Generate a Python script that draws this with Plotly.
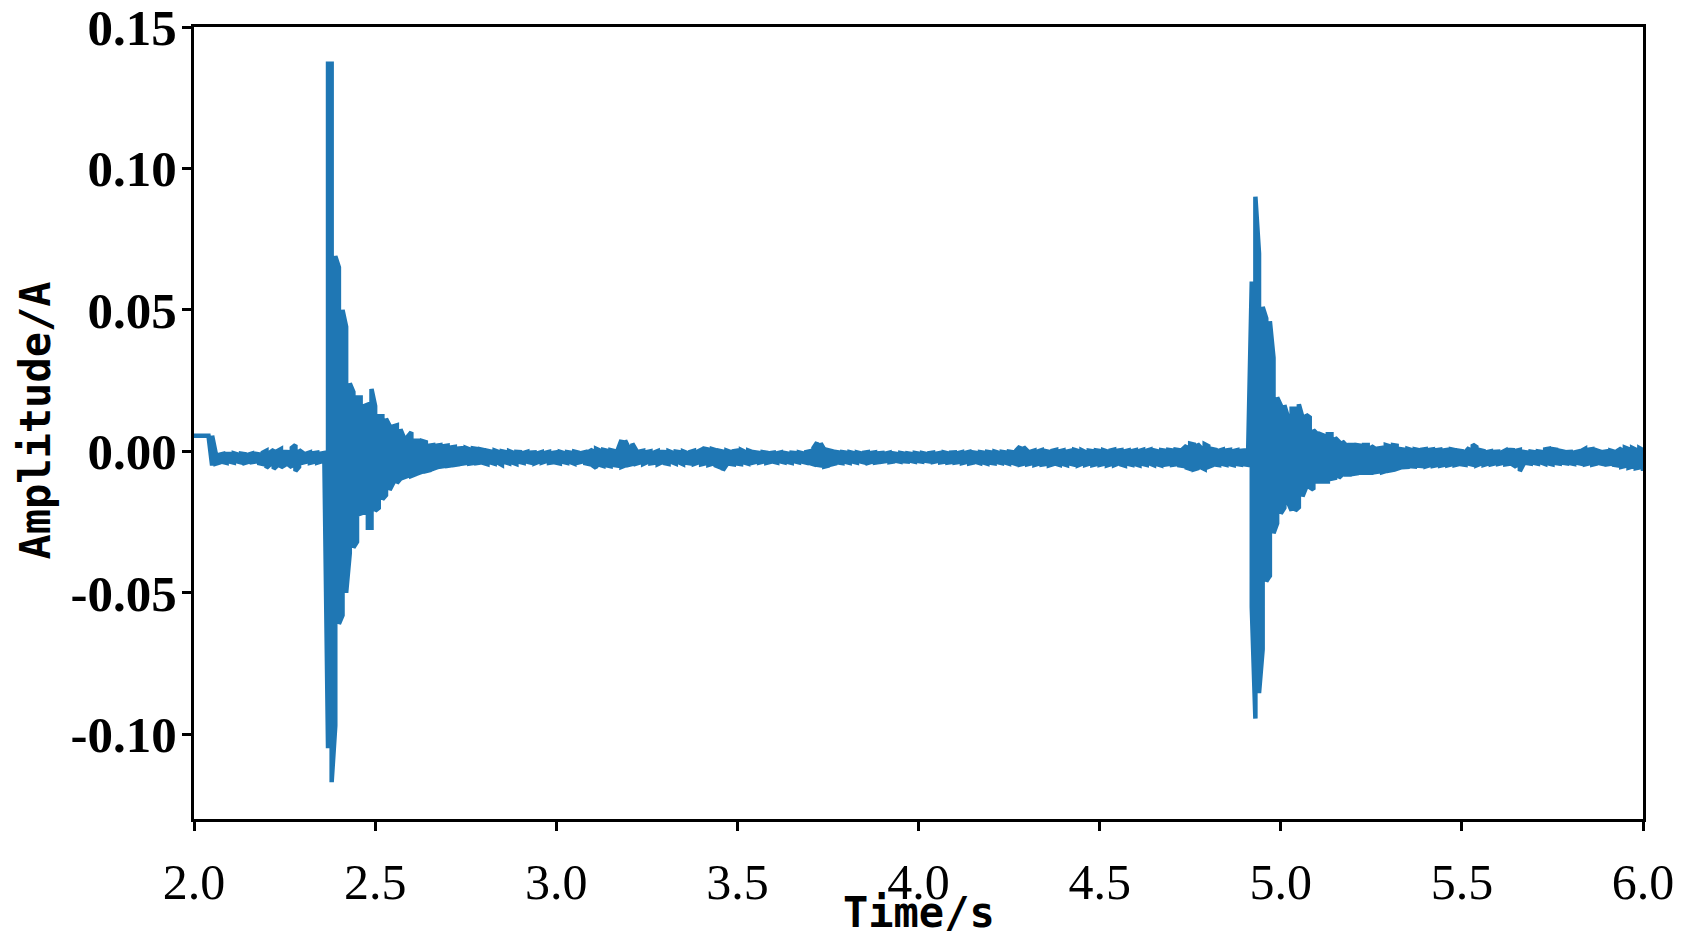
import numpy as np
import plotly.graph_objects as go

# sampling of the trace: one column every 10 ms from 2.00 s to 6.00 s
t_start = 2.0
t_step = 0.01

# highest value of the trace inside each 10 ms column (A)
upper = [
    0.0055, 0.0055, 0.0055, 0.0055, 0.0055, 0.0055, -0.0008, -0.0012, -0.0009, -0.0010,   # 2.0
    -0.0010, -0.0007, -0.0011, -0.0008, -0.0010, -0.0012, -0.0008, -0.0009, -0.0011, -0.0005,
    0.0002, -0.0004, 0.0005, 0.0001, 0.0008, -0.0002, -0.0003, 0.0012, 0.0022, 0.0004,
    -0.0005, -0.0008, -0.0004, -0.0007, -0.0005, -0.0008, -0.0006, 0.1370, 0.1370, 0.0690,
    0.0650, 0.0500, 0.0440, 0.0240, 0.0210, 0.0190, 0.0190, 0.0160, 0.0165, 0.0220,
    0.0160, 0.0124, 0.0124, 0.0115, 0.0090, 0.0088, 0.0092, 0.0078, 0.0046, 0.0052,   # 2.5
    0.0067, 0.0037, 0.0037, 0.0036, 0.0032, 0.0020, 0.0022, 0.0020, 0.0022, 0.0018,
    0.0020, 0.0014, 0.0016, 0.0010, 0.0011, 0.0012, 0.0007, 0.0010, 0.0008, 0.0007,
    0.0004, 0.0002, -0.0001, 0.0003, -0.0002, 0.0000, -0.0003, 0.0001, -0.0004, -0.0002,
    -0.0003, -0.0006, -0.0002, -0.0005, -0.0004, -0.0007, -0.0003, -0.0005, -0.0002, -0.0006,
    -0.0004, -0.0002, -0.0006, -0.0003, -0.0005, -0.0001, -0.0004, -0.0006, -0.0003, -0.0002,   # 3.0
    0.0006, 0.0009, 0.0003, 0.0005, 0.0002, 0.0004, 0.0001, 0.0006, 0.0040, 0.0038,
    0.0012, 0.0027, 0.0005, -0.0001, 0.0002, -0.0003, 0.0000, -0.0004, 0.0001, -0.0002,
    -0.0003, 0.0001, -0.0004, -0.0001, -0.0003, 0.0000, -0.0005, -0.0002, 0.0002, -0.0001,
    0.0005, 0.0009, 0.0006, 0.0008, 0.0004, 0.0002, -0.0001, 0.0003, -0.0002, 0.0000,
    0.0002, 0.0005, -0.0001, 0.0003, -0.0002, -0.0004, -0.0006, -0.0003, -0.0005, -0.0007,   # 3.5
    -0.0005, -0.0007, -0.0004, -0.0006, -0.0008, -0.0005, -0.0006, -0.0004, -0.0007, -0.0003,
    0.0000, 0.0012, 0.0031, 0.0028, 0.0006, 0.0004, 0.0001, -0.0002, -0.0004, -0.0003,
    -0.0005, -0.0003, -0.0006, -0.0004, -0.0007, -0.0005, -0.0003, -0.0006, -0.0004, -0.0007,
    -0.0006, -0.0008, -0.0005, -0.0007, -0.0009, -0.0006, -0.0008, -0.0007, -0.0009, -0.0006,
    -0.0008, -0.0006, -0.0009, -0.0007, -0.0005, -0.0008, -0.0006, -0.0004, -0.0007, -0.0005,   # 4.0
    -0.0004, -0.0006, -0.0003, -0.0005, -0.0002, -0.0004, -0.0006, -0.0003, -0.0005, -0.0002,
    -0.0004, -0.0001, -0.0005, -0.0002, -0.0004, -0.0001, -0.0003, 0.0003, 0.0017, 0.0015,
    0.0002, -0.0001, 0.0003, 0.0000, 0.0004, 0.0001, -0.0002, 0.0002, 0.0005, 0.0000,
    0.0003, -0.0001, 0.0002, 0.0005, 0.0001, 0.0004, -0.0002, 0.0002, 0.0000, 0.0003,
    0.0001, 0.0004, 0.0000, 0.0003, 0.0006, 0.0002, 0.0004, 0.0000, 0.0003, 0.0001,   # 4.5
    0.0004, 0.0001, 0.0005, 0.0002, 0.0006, 0.0003, 0.0000, 0.0004, 0.0002, 0.0005,
    0.0003, 0.0006, 0.0004, 0.0008, 0.0020, 0.0027, 0.0024, 0.0026, 0.0012, 0.0025,
    0.0018, 0.0008, 0.0005, 0.0002, 0.0006, 0.0003, 0.0005, 0.0001, 0.0004, 0.0002,
    0.0003, 0.0000, 0.0600, 0.0900, 0.0700, 0.0510, 0.0470, 0.0460, 0.0330, 0.0190,
    0.0163, 0.0163, 0.0120, 0.0150, 0.0150, 0.0166, 0.0120, 0.0129, 0.0120, 0.0075,   # 5.0
    0.0062, 0.0060, 0.0055, 0.0060, 0.0060, 0.0048, 0.0035, 0.0035, 0.0022, 0.0022,
    0.0022, 0.0022, 0.0020, 0.0022, 0.0022, 0.0018, 0.0010, 0.0010, 0.0012, 0.0022,
    0.0018, 0.0022, 0.0020, 0.0008, 0.0006, 0.0009, 0.0005, 0.0007, 0.0004, 0.0006,
    0.0008, 0.0005, 0.0007, 0.0004, 0.0006, 0.0003, 0.0005, 0.0007, 0.0004, 0.0002,
    0.0000, -0.0002, 0.0012, 0.0024, 0.0015, 0.0004, 0.0001, -0.0003, 0.0000, -0.0002,   # 5.5
    -0.0001, -0.0004, 0.0003, 0.0005, 0.0004, 0.0002, 0.0005, -0.0002, -0.0004, -0.0001,
    -0.0003, 0.0000, -0.0002, 0.0007, 0.0009, 0.0008, 0.0006, 0.0002, -0.0001, -0.0003,
    -0.0002, -0.0004, -0.0001, 0.0002, 0.0009, 0.0006, 0.0008, 0.0004, 0.0000, -0.0002,
    0.0000, 0.0003, -0.0001, 0.0002, 0.0010, 0.0013, 0.0008, 0.0012, 0.0006, 0.0011,
    0.0004,   # 6.0
]

# lowest value of the trace inside each 10 ms column (A)
lower = [
    0.0055, 0.0055, 0.0055, 0.0055, 0.0055, -0.0050, -0.0044, -0.0040, -0.0038, -0.0041,   # 2.0
    -0.0037, -0.0040, -0.0036, -0.0039, -0.0041, -0.0037, -0.0038, -0.0036, -0.0042, -0.0045,
    -0.0058, -0.0047, -0.0062, -0.0050, -0.0057, -0.0049, -0.0046, -0.0056, -0.0070, -0.0055,
    -0.0040, -0.0037, -0.0041, -0.0038, -0.0040, -0.0036, -0.0041, -0.1050, -0.1170, -0.0970,
    -0.0610, -0.0580, -0.0500, -0.0360, -0.0340, -0.0320, -0.0220, -0.0215, -0.0270, -0.0270,
    -0.0210, -0.0200, -0.0170, -0.0155, -0.0137, -0.0112, -0.0112, -0.0097, -0.0092, -0.0087,   # 2.5
    -0.0087, -0.0082, -0.0077, -0.0072, -0.0070, -0.0067, -0.0062, -0.0057, -0.0054, -0.0052,
    -0.0052, -0.0050, -0.0048, -0.0046, -0.0044, -0.0042, -0.0044, -0.0042, -0.0042, -0.0040,
    -0.0042, -0.0046, -0.0040, -0.0044, -0.0041, -0.0048, -0.0039, -0.0043, -0.0040, -0.0045,
    -0.0038, -0.0041, -0.0037, -0.0040, -0.0043, -0.0038, -0.0040, -0.0036, -0.0041, -0.0039,
    -0.0040, -0.0043, -0.0038, -0.0041, -0.0039, -0.0044, -0.0040, -0.0037, -0.0042, -0.0045,   # 3.0
    -0.0050, -0.0059, -0.0048, -0.0052, -0.0050, -0.0053, -0.0049, -0.0051, -0.0055, -0.0050,
    -0.0048, -0.0045, -0.0044, -0.0040, -0.0045, -0.0039, -0.0043, -0.0041, -0.0046, -0.0040,
    -0.0042, -0.0045, -0.0039, -0.0044, -0.0040, -0.0046, -0.0041, -0.0043, -0.0045, -0.0040,
    -0.0046, -0.0043, -0.0048, -0.0044, -0.0050, -0.0055, -0.0067, -0.0048, -0.0044, -0.0046,
    -0.0043, -0.0045, -0.0040, -0.0044, -0.0041, -0.0038, -0.0040, -0.0037, -0.0041, -0.0038,   # 3.5
    -0.0037, -0.0040, -0.0036, -0.0039, -0.0038, -0.0041, -0.0036, -0.0039, -0.0037, -0.0040,
    -0.0042, -0.0046, -0.0048, -0.0050, -0.0054, -0.0051, -0.0046, -0.0043, -0.0040, -0.0042,
    -0.0038, -0.0041, -0.0037, -0.0040, -0.0036, -0.0039, -0.0041, -0.0037, -0.0040, -0.0038,
    -0.0037, -0.0035, -0.0038, -0.0036, -0.0034, -0.0037, -0.0035, -0.0036, -0.0034, -0.0037,
    -0.0035, -0.0037, -0.0034, -0.0036, -0.0038, -0.0035, -0.0039, -0.0037, -0.0040, -0.0038,   # 4.0
    -0.0040, -0.0038, -0.0042, -0.0039, -0.0043, -0.0040, -0.0038, -0.0042, -0.0040, -0.0044,
    -0.0041, -0.0043, -0.0039, -0.0042, -0.0040, -0.0044, -0.0041, -0.0045, -0.0047, -0.0044,
    -0.0046, -0.0043, -0.0048, -0.0044, -0.0047, -0.0045, -0.0050, -0.0046, -0.0044, -0.0048,
    -0.0045, -0.0049, -0.0044, -0.0047, -0.0050, -0.0045, -0.0048, -0.0044, -0.0049, -0.0046,
    -0.0048, -0.0045, -0.0050, -0.0046, -0.0049, -0.0044, -0.0047, -0.0051, -0.0045, -0.0048,   # 4.5
    -0.0046, -0.0050, -0.0045, -0.0048, -0.0044, -0.0049, -0.0046, -0.0050, -0.0047, -0.0045,
    -0.0048, -0.0046, -0.0050, -0.0052, -0.0058, -0.0062, -0.0064, -0.0060, -0.0057, -0.0063,
    -0.0055, -0.0050, -0.0047, -0.0049, -0.0045, -0.0048, -0.0046, -0.0049, -0.0045, -0.0047,
    -0.0046, -0.0048, -0.0550, -0.0945, -0.0855, -0.0700, -0.0460, -0.0440, -0.0290, -0.0255,
    -0.0220, -0.0200, -0.0180, -0.0210, -0.0210, -0.0198, -0.0160, -0.0127, -0.0127, -0.0135,   # 5.0
    -0.0107, -0.0107, -0.0107, -0.0107, -0.0097, -0.0094, -0.0094, -0.0082, -0.0082, -0.0082,
    -0.0080, -0.0078, -0.0076, -0.0076, -0.0076, -0.0076, -0.0074, -0.0072, -0.0074, -0.0070,
    -0.0068, -0.0066, -0.0062, -0.0058, -0.0056, -0.0055, -0.0053, -0.0054, -0.0051, -0.0052,
    -0.0054, -0.0050, -0.0052, -0.0049, -0.0051, -0.0048, -0.0050, -0.0047, -0.0049, -0.0046,
    -0.0046, -0.0048, -0.0044, -0.0047, -0.0050, -0.0045, -0.0048, -0.0044, -0.0046, -0.0043,   # 5.5
    -0.0045, -0.0042, -0.0046, -0.0044, -0.0047, -0.0055, -0.0070, -0.0046, -0.0042, -0.0044,
    -0.0041, -0.0044, -0.0040, -0.0045, -0.0043, -0.0046, -0.0042, -0.0044, -0.0041, -0.0043,
    -0.0042, -0.0045, -0.0041, -0.0044, -0.0046, -0.0043, -0.0047, -0.0044, -0.0042, -0.0045,
    -0.0046, -0.0044, -0.0048, -0.0050, -0.0055, -0.0052, -0.0058, -0.0054, -0.0060, -0.0057,
    -0.0070,   # 6.0
]

x_ticks = [2.0, 2.5, 3.0, 3.5, 4.0, 4.5, 5.0, 5.5, 6.0]
y_ticks = [-0.10, -0.05, 0.00, 0.05, 0.10, 0.15]
y_tick_text = ["-0.10", "-0.05", "0.00", "0.05", "0.10", "0.15"]

times = np.round(t_start + t_step * np.arange(len(upper)), 2)

# walk each column top->bottom / bottom->top so the dense signal fills like the original
xs, ys = [], []
for i, t in enumerate(times):
    pair = (upper[i], lower[i]) if i % 2 == 0 else (lower[i], upper[i])
    xs += [t, t]
    ys += list(pair)

fig = go.Figure(go.Scatter(
    x=xs, y=ys, mode="lines",
    line={"color": "#1f77b4", "width": 4.5},
    hoverinfo="skip",
))

axis_common = dict(
    showgrid=False, zeroline=False, automargin=False,
    showline=True, linecolor="black", linewidth=3, mirror=True,
    ticks="outside", ticklen=9, tickwidth=3, tickcolor="black",
    ticklabeloverflow="allow",
)

title_font = {"family": "DejaVu Sans Mono, monospace", "size": 42,
              "color": "black", "weight": "bold"}

fig.update_layout(
    width=1690, height=945,
    # the page body adds 8px, so the margins are shifted to keep the frame in place
    margin={"l": 186, "r": 55, "t": 19, "b": 134},
    paper_bgcolor="white", plot_bgcolor="white",
    showlegend=False,
    xaxis=dict(
        axis_common, range=[2.0, 6.0], tickvals=x_ticks, tickformat=".1f",
        ticklabelstandoff=8,
        tickfont={"family": "Liberation Serif, Times New Roman, serif", "size": 50, "color": "black"},
    ),
    yaxis=dict(
        axis_common, range=[-0.13, 0.15], tickvals=y_ticks, ticktext=y_tick_text,
        ticklabelstandoff=-5,
        tickfont={"family": "Liberation Serif, Times New Roman, serif", "size": 51,
                  "color": "black", "weight": "bold"},
    ),
    annotations=[
        dict(text="Time/s", xref="paper", yref="paper", x=0.5, y=0,
             xanchor="center", yanchor="middle", yshift=-93,
             showarrow=False, font=title_font),
        dict(text="Amplitude/A", xref="paper", yref="paper", x=0, y=0.503,
             xanchor="center", yanchor="middle", xshift=-158, textangle=-90,
             showarrow=False, font=title_font),
    ],
)

fig.write_html("out.html")
